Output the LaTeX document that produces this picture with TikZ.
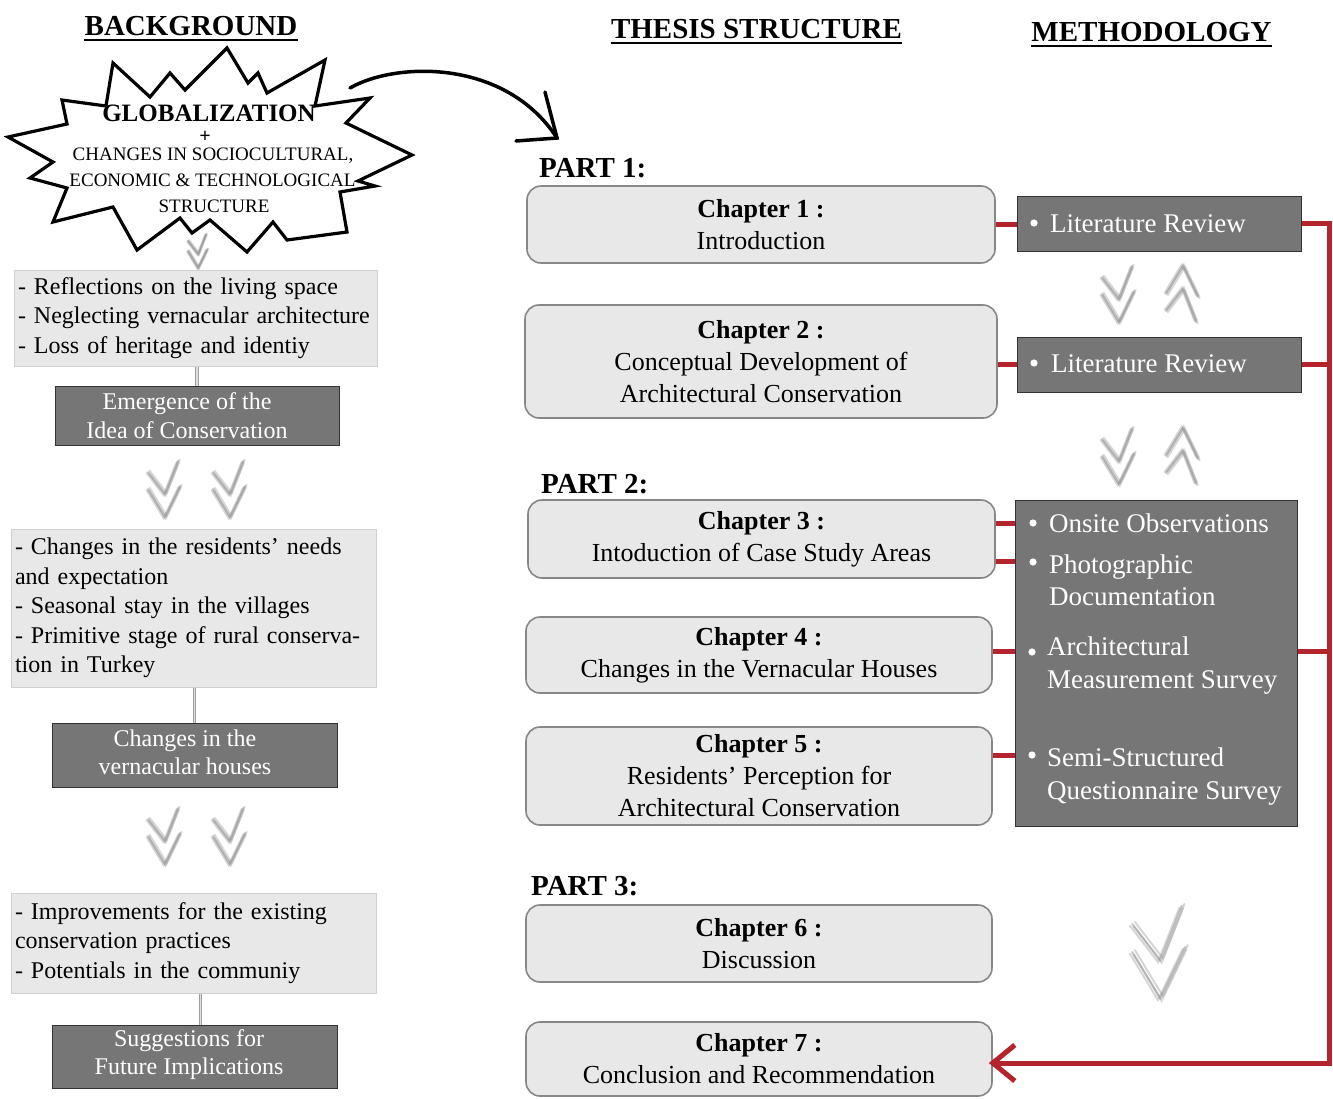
\documentclass[tikz,border=0pt]{standalone}
\usepackage{fontspec}
\setmainfont{Liberation Serif}
\usetikzlibrary{calc}

\definecolor{boxdark}{RGB}{118,118,118}
\definecolor{boxlight}{RGB}{232,232,232}
\definecolor{boxedge}{RGB}{208,208,208}
\definecolor{chapedge}{RGB}{135,135,135}
\definecolor{linkred}{RGB}{180,36,44}
\definecolor{chevgray}{RGB}{140,140,140}

\newcommand{\fsz}[2]{\fontsize{#1}{#2}\selectfont}

\tikzset{
  hdr/.style={font=\fsz{29}{34}\bfseries, inner sep=0pt, anchor=base},
  uline/.style={line width=1.8pt},
  partlbl/.style={font=\fsz{29}{34}\bfseries, inner sep=0pt, anchor=base west},
  infobox/.style={draw=boxedge, line width=1pt, fill=boxlight, align=left,
    font=\fsz{24}{29.5}, inner xsep=4pt, inner ysep=0pt},
  darkbox/.style={draw=black!80, line width=1pt, fill=boxdark, inner sep=0pt},
  darktxt/.style={text=white, align=center, font=\fsz{24}{28.5}, inner sep=0pt},
  chap/.style={draw=chapedge, line width=1.6pt, fill=boxlight, rounded corners=14pt,
    align=center, font=\fsz{26}{32}, inner sep=0pt},
  meth/.style={draw=black!80, line width=1pt, fill=boxdark, inner sep=0pt},
  methtxt/.style={text=white, font=\fsz{27}{33}, inner sep=0pt, anchor=base west},
  link/.style={draw=linkred, line width=5pt},
  vconn/.style={draw=gray!75, double=gray!25, double distance=1.4pt, line width=1pt},
  sketch/.style={draw=black, line width=3.5pt, line cap=round, line join=round},
  bursttxt/.style={font=\fsz{19}{22}, inner sep=0pt, anchor=base},
  chevstroke/.style={draw=chevgray, line width=2pt, line cap=round, line join=miter},
  chevpair/.pic={
    \foreach \a/\b/\o in {0/0/0.5, 1.6/1.2/0.35, -1.4/-1.1/0.35, 0.8/-1.6/0.3}{
      \begin{scope}[shift={(\a pt,\b pt)}]
        \draw[chevstroke, opacity=\o] (-15,-17) -- (2,5) -- (15,-28);
        \draw[chevstroke, opacity=\o] (-15,0) -- (2,28) -- (17,-3);
      \end{scope}
    }
  }
}

\begin{document}
\begin{tikzpicture}[x=1pt,y=-1pt]
\useasboundingbox (0,0) rectangle (1333,1098);
\fill[white] (0,0) rectangle (1333,1098);

% ---------- column headers ----------
\node[hdr] (hbg) at (191,35) {BACKGROUND};
\node[hdr] (hts) at (756.5,38) {THESIS STRUCTURE};
\node[hdr] (hme) at (1151.5,41) {METHODOLOGY};
\foreach \h in {hbg,hts,hme}
  \draw[uline] ([yshift=-5pt]\h.base west) -- ([yshift=-5pt]\h.base east);

% ---------- starburst ----------
\filldraw[fill=white, draw=black, line width=3.2pt, line join=miter, miter limit=20]
  (227,48) -- (248,83) -- (258,73) -- (267,93) -- (325,60) -- (315,106) -- (370,98)
  -- (346,123) -- (412,155) -- (358,181) -- (375,186) -- (340,192) -- (347,232)
  -- (287,240) -- (273,222) -- (247,252) -- (210,220) -- (192,233) -- (180,218)
  -- (137,250) -- (113,207) -- (53,222) -- (67,188) -- (30,178)
  -- (53,162) -- (8,137) -- (67,124) -- (62,100) -- (106,106) -- (113,63)
  -- (150,97) -- (170,73) -- (185,90) -- cycle;
\node[font=\fsz{25}{28}\bfseries, inner sep=0pt, anchor=base] (glob) at (209,121) {GLOBALIZATION};
\node[font=\fsz{20}{22}\bfseries, inner sep=0pt] (plus) at (205,137) {+};
\node[bursttxt] (bt1) at (213,160) {CHANGES IN SOCIOCULTURAL,};
\node[bursttxt] (bt2) at (212.5,186) {ECONOMIC \& TECHNOLOGICAL};
\node[bursttxt] (bt3) at (214,212) {STRUCTURE};

% curved arrow towards the thesis structure
\coordinate (arcA) at (350,88);
\coordinate (arcB) at (557,138);
\draw[sketch] (arcA) .. controls (395,62) and (505,58) .. (arcB);
\draw[sketch, line join=miter] ([shift={(-12pt,46pt)}]arcB) -- (arcB) -- ([shift={(-41pt,-3pt)}]arcB);

% ---------- background column ----------
\pic[scale=0.6] at (197,251) {chevpair};

\node[infobox, text width=355pt, minimum height=96pt] (refl) at (195.5,318)
  {- Reflections on the living space\\- Neglecting vernacular architecture\\- Loss of heritage and identiy};
\node[darkbox, minimum width=284pt, minimum height=59pt] (idea) at (197,415.5) {};
\node[darktxt] (ideat) at (187,415.5) {Emergence of the\\Idea of Conservation};
\draw[vconn] (refl.south -| idea.north) -- (idea.north);

\pic at (163,489) {chevpair};
\pic at (228,489) {chevpair};

\node[infobox, text width=357pt, minimum height=158pt] (needs) at (193.5,608)
  {- Changes in the residents’ needs\\and expectation\\- Seasonal stay in the villages\\- Primitive stage of rural conserva-\\tion in Turkey};
\node[darkbox, minimum width=285pt, minimum height=64pt] (vern) at (194.5,755) {};
\node[darktxt] (vernt) at (185,752.5) {Changes in the\\vernacular houses};
\draw[vconn] (needs.south -| vern.north) -- (vern.north);

\pic at (163,836) {chevpair};
\pic at (228,836) {chevpair};

\node[infobox, text width=357pt, minimum height=100pt] (impr) at (193.5,943)
  {- Improvements for the existing\\conservation practices\\- Potentials in the communiy};
\node[darkbox, minimum width=285pt, minimum height=63pt] (sugg) at (194.5,1056.5) {};
\node[darktxt] (suggt) at (189,1054.5) {Suggestions for\\Future Implications};
\draw[vconn] ([xshift=6pt]impr.south -| sugg.north) -- ([xshift=6pt]sugg.north);

% ---------- thesis structure column ----------
\node[partlbl] (p1) at (539,177) {PART 1:};
\node[partlbl] (p2) at (541,493) {PART 2:};
\node[partlbl] (p3) at (531,895) {PART 3:};

\node[chap, minimum width=468pt, minimum height=77pt] (ch1) at (761,224.5)
  {\textbf{Chapter 1 :}\\Introduction};
\node[chap, minimum width=472pt, minimum height=113pt] (ch2) at (761,361.5)
  {\textbf{Chapter 2 :}\\Conceptual Development of\\Architectural Conservation};
\node[chap, minimum width=467pt, minimum height=78pt] (ch3) at (761.5,539)
  {\textbf{Chapter 3 :}\\Intoduction of Case Study Areas};
\node[chap, minimum width=466pt, minimum height=76pt] (ch4) at (759,655)
  {\textbf{Chapter 4 :}\\Changes in the Vernacular Houses};
\node[chap, minimum width=466pt, minimum height=98pt] (ch5) at (759,776)
  {\textbf{Chapter 5 :}\\Residents’ Perception for\\Architectural Conservation};
\node[chap, minimum width=466pt, minimum height=77pt] (ch6) at (759,943.5)
  {\textbf{Chapter 6 :}\\Discussion};
\node[chap, minimum width=466pt, minimum height=74pt] (ch7) at (759,1059)
  {\textbf{Chapter 7 :}\\Conclusion and Recommendation};

% ---------- methodology column ----------
\node[meth, minimum width=284pt, minimum height=55pt] (m1) at (1159,223.5) {};
\node[meth, minimum width=284pt, minimum height=55pt] (m2) at (1159,364.5) {};
\node[meth, minimum width=282pt, minimum height=326pt] (m3) at (1156,663) {};

\fill[white] (1034,223) circle (3.6pt);
\node[methtxt] (lr1) at (1050,232) {Literature Review};
\fill[white] (1034,363) circle (3.6pt);
\node[methtxt] (lr2) at (1051,372) {Literature Review};

\fill[white] (1033,523) circle (3.6pt);
\node[methtxt] (ob1) at (1049,532) {Onsite Observations};
\fill[white] (1033,562) circle (3.6pt);
\node[methtxt] (ph1) at (1049,573) {Photographic};
\node[methtxt] (ph2) at (1049,605) {Documentation};
\fill[white] (1032,652) circle (3.6pt);
\node[methtxt] (ar1) at (1047,655) {Architectural};
\node[methtxt] (ar2) at (1047,688) {Measurement Survey};
\fill[white] (1032,755) circle (3.6pt);
\node[methtxt] (ss1) at (1047,766) {Semi-Structured};
\node[methtxt] (ss2) at (1047,799) {Questionnaire Survey};

\pic at (1117,294) {chevpair};
\pic[yscale=-1] at (1181,294) {chevpair};
\pic at (1117,456) {chevpair};
\pic[yscale=-1] at (1181,456) {chevpair};
\pic[scale=1.65] at (1157,952) {chevpair};

% ---------- red links between chapters and methods ----------
\draw[link] (ch1.east) -- (ch1.east -| m1.west);
\draw[link] (ch2.east |- m2.west) -- (m2.west);
\draw[link] ([yshift=16pt]ch3.east) -- ([yshift=16pt]ch3.east -| m3.west);
\draw[link] ([yshift=-22pt]ch3.east) -- ([yshift=-22pt]ch3.east -| m3.west);
\draw[link] ([yshift=4pt]ch4.east) -- ([yshift=4pt]ch4.east -| m3.west);
\draw[link] ([yshift=21pt]ch5.east) -- ([yshift=21pt]ch5.east -| m3.west);

\coordinate (rx) at (1329,0);
\coordinate (tip) at ([yshift=-4pt]ch7.east);
\draw[link, line join=miter] (m1.east) -- (m1.east -| rx) -- (rx |- tip) -- (tip);
\draw[link] (m2.east) -- (m2.east -| rx);
\draw[link] ([yshift=12pt]m3.east) -- ([yshift=12pt]m3.east -| rx);
\draw[link, line join=miter] ([shift={(22pt,18pt)}]tip) -- (tip) -- ([shift={(22pt,-18pt)}]tip);

\end{tikzpicture}
\end{document}
